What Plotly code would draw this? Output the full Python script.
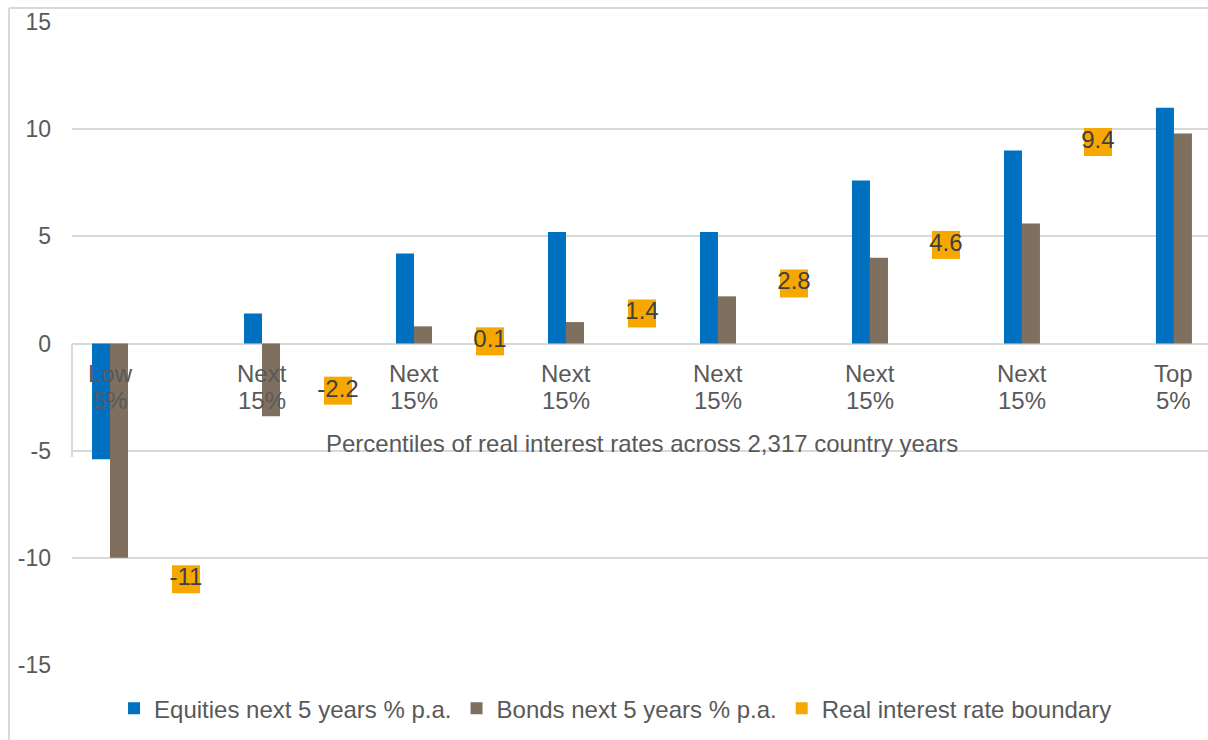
import plotly.graph_objects as go

categories = ["Low 5%", "Next 15%", "Next 15%", "Next 15%", "Next 15%", "Next 15%", "Next 15%", "Top 5%"]
equities = [-5.4, 1.4, 4.2, 5.2, 5.2, 7.6, 9.0, 11.0]
bonds = [-10.0, -3.4, 0.8, 1.0, 2.2, 4.0, 5.6, 9.8]
boundary_pos = [0.5, 1.5, 2.5, 3.5, 4.5, 5.5, 6.5]
boundary = [-11, -2.2, 0.1, 1.4, 2.8, 4.6, 9.4]
boundary_labels = ["-11", "-2.2", "0.1", "1.4", "2.8", "4.6", "9.4"]
y_ticks = [-15, -10, -5, 0, 5, 10, 15]
axis_title = "Percentiles of real interest rates across 2,317 country years"

FONT = "Liberation Sans, Arial, sans-serif"
TXT = "#595959"
GRID = "#d9d9d9"
BLUE = "#0070C0"
BROWN = "#7F6F5F"
ORANGE = "#F7A800"

xs = list(range(len(categories)))

fig = go.Figure()
fig.add_trace(go.Bar(x=xs, y=equities, name="Equities next 5 years % p.a.",
                     marker=dict(color=BLUE, line=dict(width=0))))
fig.add_trace(go.Bar(x=xs, y=bonds, name="Bonds next 5 years % p.a.",
                     marker=dict(color=BROWN, line=dict(width=0))))
fig.add_trace(go.Scatter(x=boundary_pos, y=boundary, name="Real interest rate boundary",
                         mode="markers+text", text=boundary_labels,
                         textposition="middle center",
                         textfont=dict(family=FONT, size=24, color="#404040"),
                         marker=dict(symbol="square", size=28, color=ORANGE,
                                     line=dict(width=0)),
                         cliponaxis=False))

annotations = []
for i, c in zip(xs, categories):
    first, second = c.split(" ", 1)
    annotations.append(dict(x=i, y=0, xref="x", yref="y", text=first, showarrow=False,
                            yanchor="middle", yshift=-29.5,
                            font=dict(family=FONT, size=24, color=TXT)))
    annotations.append(dict(x=i, y=0, xref="x", yref="y", text=second, showarrow=False,
                            yanchor="middle", yshift=-56.5,
                            font=dict(family=FONT, size=24, color=TXT)))
annotations.append(dict(x=(xs[0] + xs[-1]) / 2, y=0, xref="x", yref="y", text=axis_title,
                        showarrow=False, yanchor="middle", yshift=-100,
                        font=dict(family=FONT, size=24, color=TXT)))

shapes = [
    dict(type="line", xref="paper", yref="paper", x0=-0.0555, x1=-0.0555, y0=1.0218, y1=-0.2,
         line=dict(color=GRID, width=2)),
    dict(type="line", xref="paper", yref="paper", x0=-0.0555, x1=1.1, y0=1.0218, y1=1.0218,
         line=dict(color=GRID, width=2)),
    dict(type="line", xref="paper", yref="y", x0=0, x1=0, y0=0, y1=-5.3,
         line=dict(color=GRID, width=2)),
]

fig.update_layout(
    width=1208, height=740,
    margin=dict(l=72, r=0, t=22, b=75, pad=0),
    paper_bgcolor="white", plot_bgcolor="white",
    barmode="group", bargap=0.763, bargroupgap=0,
    font=dict(family=FONT, size=23, color=TXT),
    showlegend=True,
    legend=dict(orientation="h", x=0.037, xanchor="left", y=-0.068, yanchor="middle",
                itemsizing="constant", font=dict(family=FONT, size=24, color=TXT),
                bgcolor="rgba(0,0,0,0)", traceorder="normal", itemwidth=30),
    annotations=annotations,
    shapes=shapes,
)
fig.update_xaxes(range=[-0.25, 7.224], showticklabels=False, showgrid=False,
                 zeroline=False, showline=False, ticks="")
fig.update_yaxes(range=[-15, 15], tickvals=y_ticks, ticktext=[str(v) for v in y_ticks],
                 showgrid=True, gridcolor=GRID, gridwidth=2, zeroline=True,
                 zerolinecolor=GRID, zerolinewidth=2, showline=False,
                 ticklabelstandoff=20, tickfont=dict(family=FONT, size=23, color=TXT))

fig.write_html("out.html")
